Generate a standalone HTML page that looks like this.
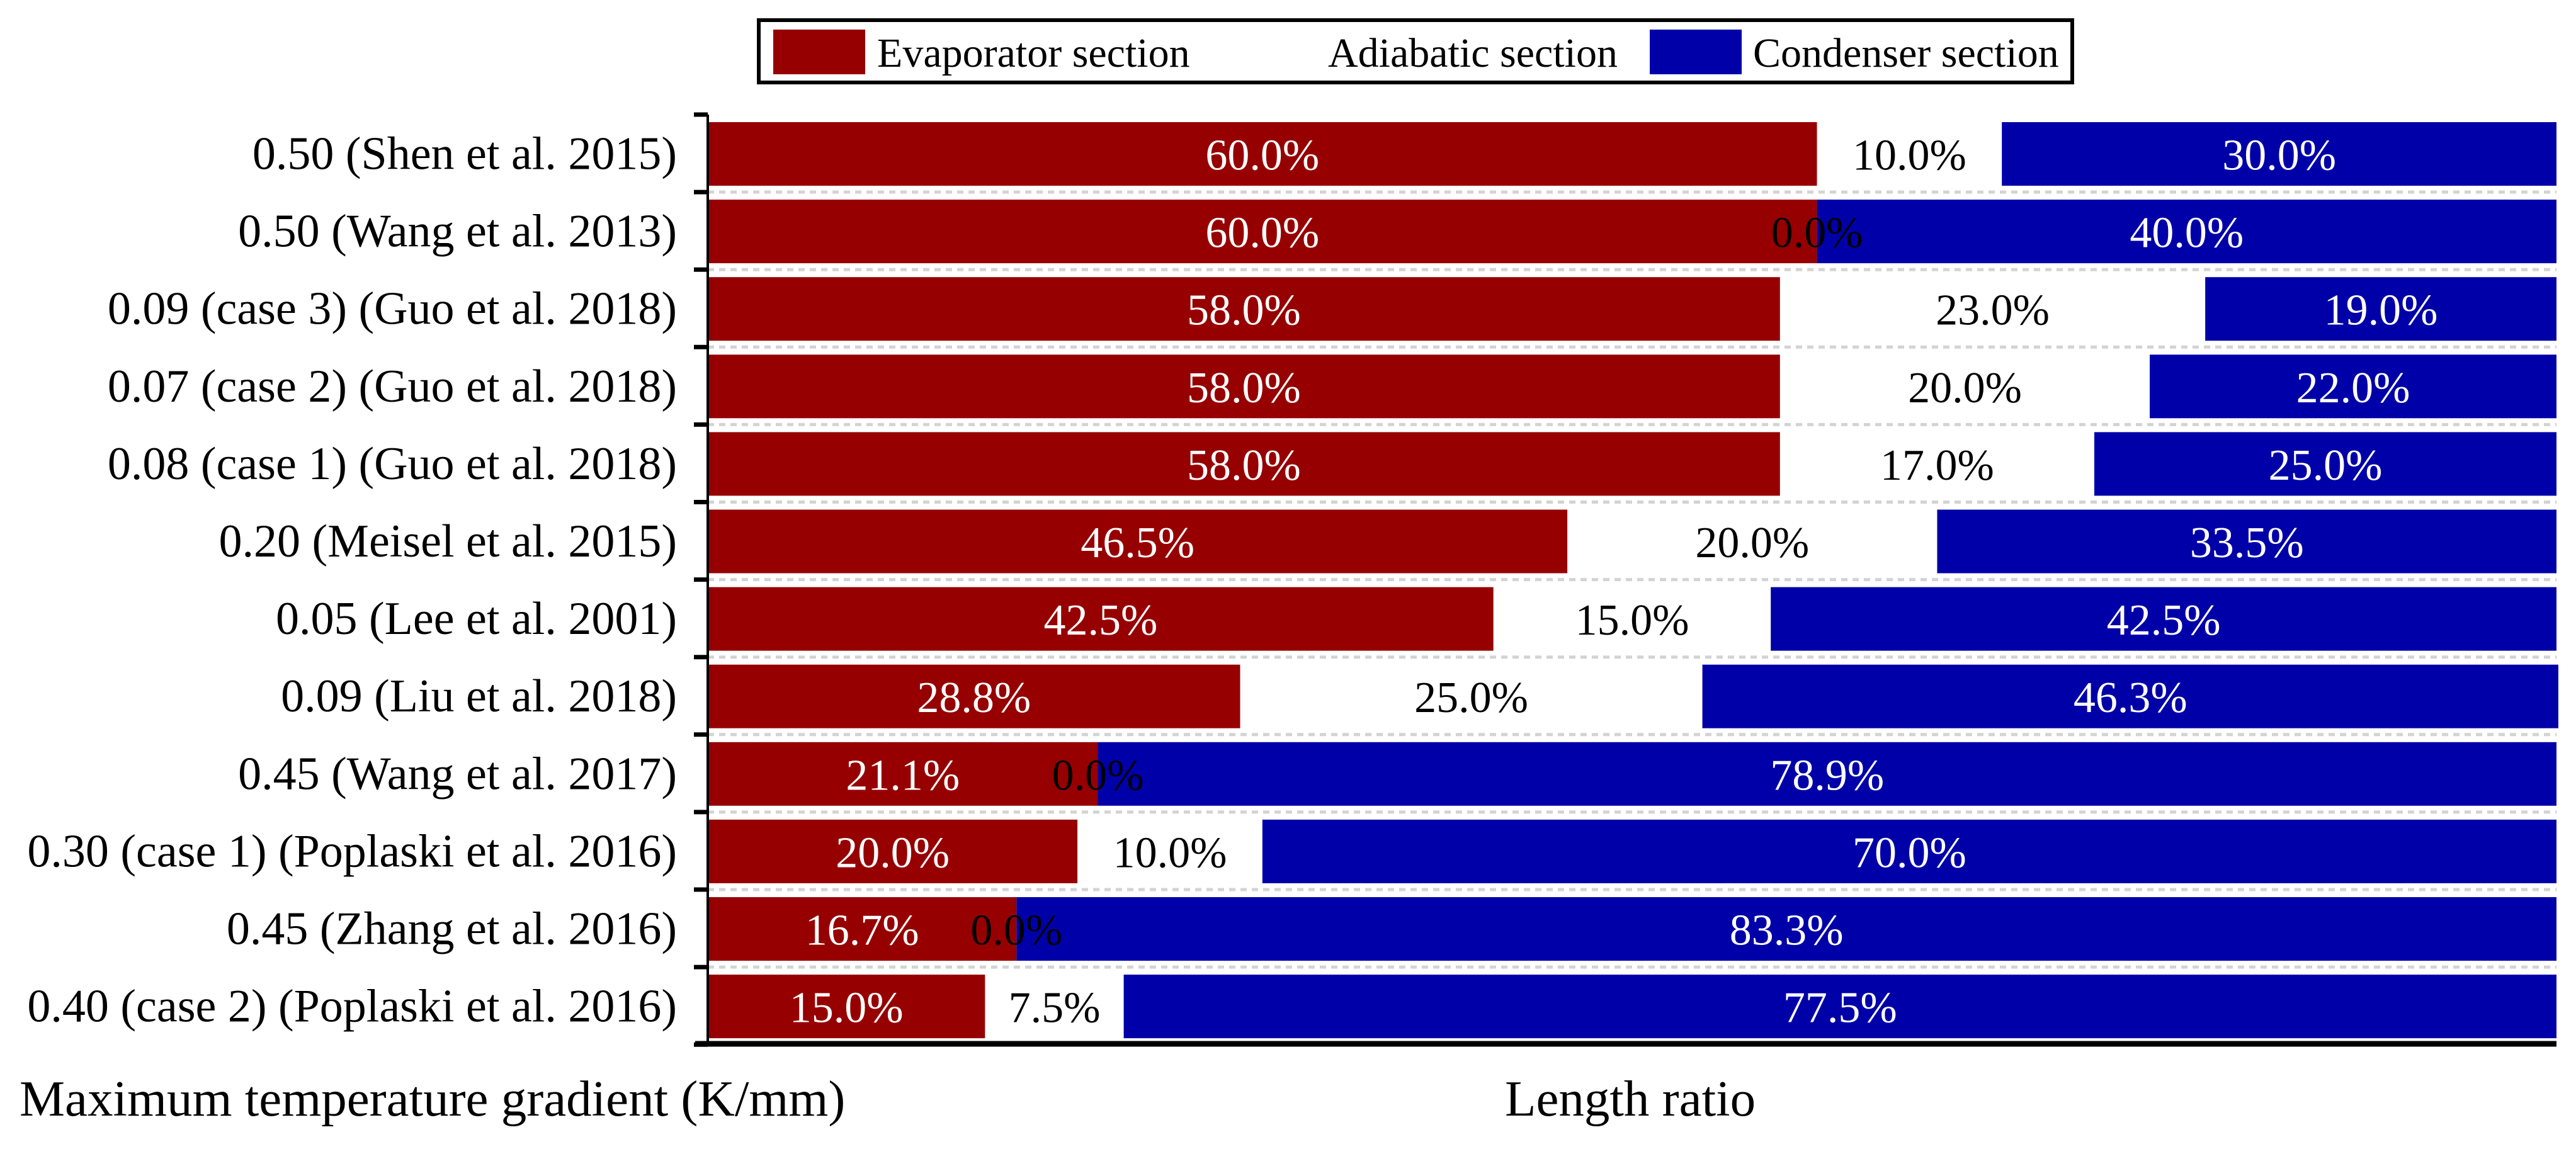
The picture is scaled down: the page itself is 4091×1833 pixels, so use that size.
<!DOCTYPE html>
<html><head><meta charset="utf-8"><style>
html,body{margin:0;padding:0;background:#fff;}
svg{display:block;font-family:"Liberation Serif","Times New Roman",serif;}
</style></head><body>
<svg id="chart" width="4091" height="1833" viewBox="0 0 4091 1833" xmlns="http://www.w3.org/2000/svg">
<g>
<rect x="1205" y="32" width="2086" height="99" fill="#fff" stroke="#000" stroke-width="6"/>
<rect x="1228" y="47" width="146" height="71" fill="#960000"/>
<text x="1393" y="106" font-size="66">Evaporator section</text>
<rect x="1936" y="47" width="146" height="71" fill="#fff"/>
<text x="2109" y="106" font-size="66">Adiabatic section</text>
<rect x="2620" y="47" width="146" height="71" fill="#0000A8"/>
<text x="2784" y="106" font-size="66">Condenser section</text>
</g>
<g id="plot"></g>
<text x="31" y="1772" font-size="81">Maximum temperature gradient (K/mm)</text>
<text x="2390" y="1772" font-size="81">Length ratio</text>
</svg>
<script>
const categories = ["0.50 (Shen et al. 2015)","0.50 (Wang et al. 2013)","0.09 (case 3) (Guo et al. 2018)","0.07 (case 2) (Guo et al. 2018)","0.08 (case 1) (Guo et al. 2018)","0.20 (Meisel et al. 2015)","0.05 (Lee et al. 2001)","0.09 (Liu et al. 2018)","0.45 (Wang et al. 2017)","0.30 (case 1) (Poplaski et al. 2016)","0.45 (Zhang et al. 2016)","0.40 (case 2) (Poplaski et al. 2016)"];
const evaporator = [60.0,60.0,58.0,58.0,58.0,46.5,42.5,28.8,21.1,20.0,16.7,15.0];
const adiabatic = [10.0,0.0,23.0,20.0,17.0,20.0,15.0,25.0,0.0,10.0,0.0,7.5];
const condenser = [30.0,40.0,19.0,22.0,25.0,33.5,42.5,46.3,78.9,70.0,83.3,77.5];

const NS="http://www.w3.org/2000/svg";
const g=document.getElementById('plot');
const X0=1124, X1=4060, Y0=182, ROW=123.1;
const xs=v=>X0+(X1-X0)*v/100;
const rowTop=i=>Y0+ROW*i;
function mk(tag,attrs){const e=document.createElementNS(NS,tag);for(const k in attrs)e.setAttribute(k,attrs[k]);g.appendChild(e);return e;}
for(let i=1;i<categories.length;i++){
  const l=mk('line',{x1:X0,x2:X1,y1:rowTop(i),y2:rowTop(i),stroke:'#d3d3d3','stroke-width':5,'stroke-dasharray':'10 8'});
  
  
}
const series=[[evaporator,'#960000','#fff','evaporator'],[adiabatic,'#fff','#000','adiabatic'],[condenser,'#0000A8','#fff','condenser']];
const labels=[];
categories.forEach((c,i)=>{
  const top=rowTop(i)+12, h=101, cy=top+h/2;
  let acc=0;
  series.forEach(([arr,col,tc,nm])=>{
    const v=arr[i], xa=xs(acc), xb=xs(acc+v);
    const r=mk('rect',{x:xa,y:top,width:Math.max(0,xb-xa),height:h,fill:col});
    
    
    labels.push([(xa+xb)/2,cy+25,v===0?'#000':tc,v.toFixed(1)+'%',nm]);
    acc+=v;
  });
  const lb=mk('text',{x:1075,y:cy+24,'font-size':74,'text-anchor':'end',fill:'#000'});
  lb.textContent=c;
  
  
});
labels.forEach(([x,y,f,s,nm])=>{
  const t=mk('text',{x:x,y:y,'font-size':70,'text-anchor':'middle',fill:f});
  t.textContent=s;
  
  
});
for(let i=0;i<=categories.length;i++){
  const t=mk('line',{x1:1102,x2:X0,y1:rowTop(i),y2:rowTop(i),stroke:'#000','stroke-width':7});
  
  
}
const ya=mk('line',{x1:X0,x2:X0,y1:Y0,y2:1659,stroke:'#000','stroke-width':4});


const xa=mk('line',{x1:1104,x2:X1,y1:1658,y2:1658,stroke:'#000','stroke-width':9});


</script>
</body></html>
